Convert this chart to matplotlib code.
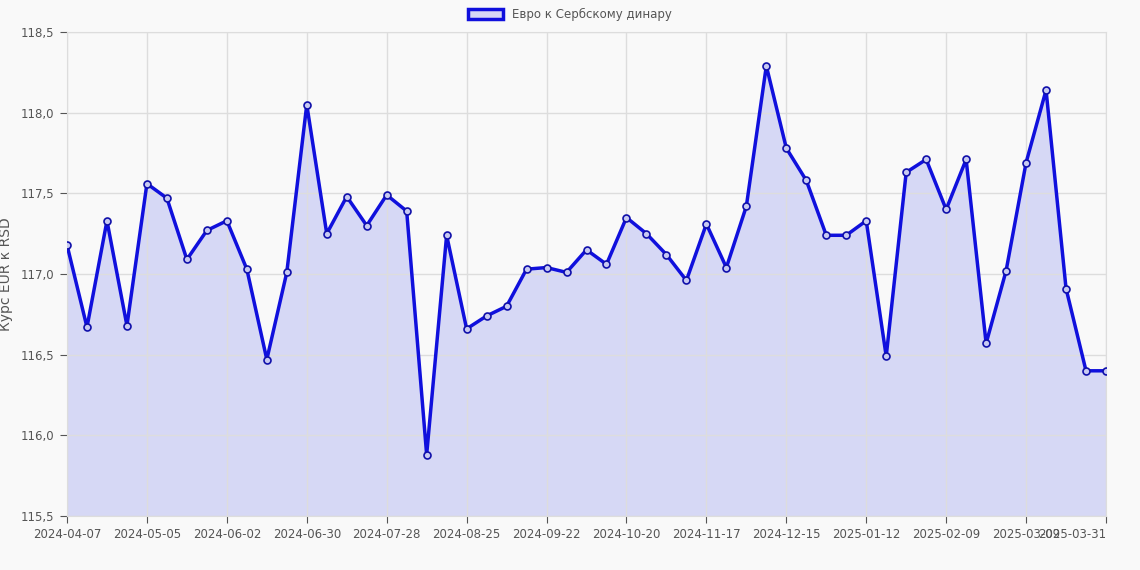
import matplotlib
matplotlib.use("Agg")
import matplotlib.pyplot as plt
from matplotlib.ticker import FuncFormatter, FixedLocator
import pandas as pd

values = [117.18,116.67,117.33,116.68,117.56,117.47,117.09,117.27,117.33,117.03,
          116.47,117.01,118.05,117.25,117.48,117.30,117.49,117.39,115.88,117.24,
          116.66,116.74,116.80,117.03,117.04,117.01,117.15,117.06,117.35,117.25,
          117.12,116.96,117.31,117.04,117.42,118.29,117.78,117.58,117.24,117.24,
          117.33,116.49,117.63,117.71,117.40,117.71,116.57,117.02,117.69,118.14,
          116.91,116.40,116.40]
dates = [d.strftime("%Y-%m-%d") for d in pd.date_range("2024-04-07", periods=len(values)-1, freq="7D")] + ["2025-03-31"]
tick_idx = list(range(0, len(values)-1, 4)) + [len(values)-1]

bg = "#f9f9f9"
fig = plt.figure(figsize=(11.4, 5.7), dpi=100, facecolor=bg)
ax = fig.add_axes([67/1140, 1-516/570, (1106-67)/1140, (516-32)/570], facecolor=bg)
x = list(range(len(values)))
ax.fill_between(x, values, 115.5, color="#d6d8f5", zorder=1)
ax.plot(x, values, color="#1010dd", lw=2.5, marker="o", ms=5, mfc="#c8caf2", mec="#1010aa", mew=1.2, zorder=3)
ax.set_xlim(0, len(values)-1)
ax.set_ylim(115.5, 118.5)
ax.yaxis.set_major_locator(FixedLocator([115.5,116,116.5,117,117.5,118,118.5]))
ax.yaxis.set_major_formatter(FuncFormatter(lambda v, p: f"{v:.1f}".replace(".", ",")))
ax.set_xticks(tick_idx)
ax.set_xticklabels([dates[i] for i in tick_idx])
ax.grid(True, color="#dddddd", lw=1, zorder=0)
for s in ax.spines.values():
    s.set_color("#dddddd")
ax.tick_params(colors="#555555", labelsize=8.5, length=5, pad=4)
for t in ax.get_xticklabels() + ax.get_yticklabels():
    t.set_color("#555555")
ax.get_xticklabels()[-1].set_horizontalalignment("right")
ax.get_xticklabels()[-1].set_x(len(values)-1)
ax.set_ylabel("Курс EUR к RSD", color="#555555", fontsize=10)
ax.yaxis.set_label_coords(-0.052, 0.5)
leg = fig.legend(handles=[plt.Rectangle((0,0),1,1, fc="#d6d8f5", ec="#1010dd", lw=2.5)],
                 labels=["Евро к Сербскому динару"], loc="upper center", bbox_to_anchor=(0.5, 1.005),
                 frameon=False, fontsize=8.5, handlelength=3, handleheight=1)
for t in leg.get_texts():
    t.set_color("#555555")
fig.savefig("out.png", dpi=100, facecolor=bg)
